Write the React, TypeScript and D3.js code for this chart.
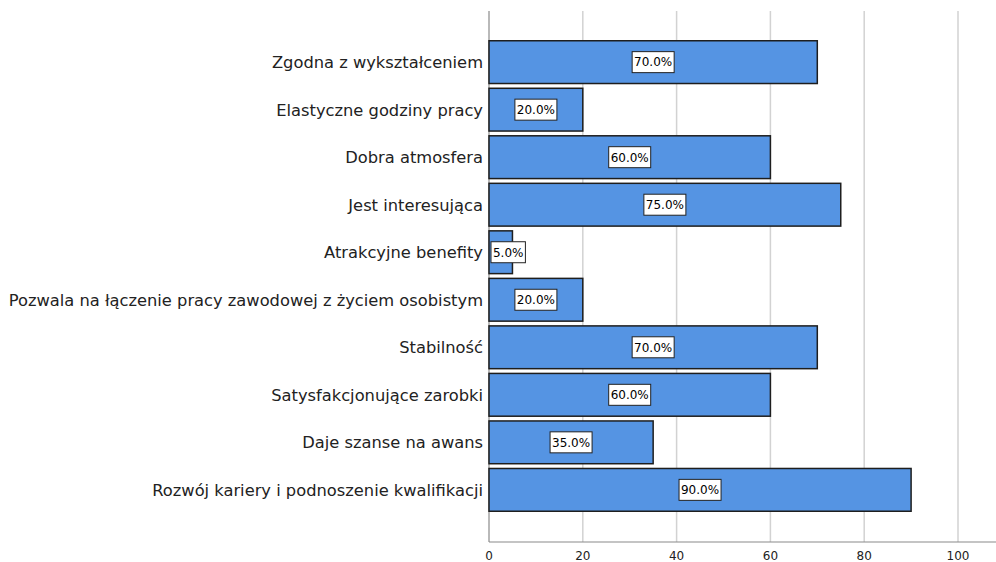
import React from "react";
import * as d3 from "d3";

const categories = [
  "Zgodna z wykształceniem",
  "Elastyczne godziny pracy",
  "Dobra atmosfera",
  "Jest interesująca",
  "Atrakcyjne benefity",
  "Pozwala na łączenie pracy zawodowej z życiem osobistym",
  "Stabilność",
  "Satysfakcjonujące zarobki",
  "Daje szanse na awans",
  "Rozwój kariery i podnoszenie kwalifikacji",
];
const values = [70, 20, 60, 75, 5, 20, 70, 60, 35, 90];
const ticks = [0, 20, 40, 60, 80, 100];

export default function App() {
  const W = 996, H = 562;
  const x = d3.scaleLinear().domain([0, 100]).range([489, 958]);
  const y = d3.scaleBand<string>().domain(categories).range([36, 516]).padding(0.1);
  const top = 11, axisY = 542;
  const font = "'DejaVu Sans', sans-serif";
  const mw = (s: string) => {
    // approximate DejaVu Sans 12px width
    let w = 0;
    for (const ch of s) w += ch === "." ? 3.8 : ch === "%" ? 11.4 : 7.6;
    return w;
  };
  return (
    <svg width={W} height={H} style={{ position: "absolute", left: 0, top: 0 }} fontFamily={font}>
      <rect width={W} height={H} fill="#fff" />
      {ticks.filter(t => t > 0).map(t => (
        <line key={t} x1={x(t)} x2={x(t)} y1={top} y2={axisY} stroke="#d2d2d2" strokeWidth={1.5} />
      ))}
      <line x1={x(0)} x2={x(0)} y1={top} y2={axisY} stroke="#8a8a8a" strokeWidth={1.2} />
      <line x1={x(0)} x2={W} y1={axisY} y2={axisY} stroke="#8a8a8a" strokeWidth={1.2} />
      {ticks.map(t => (
        <text key={t} x={x(t)} y={axisY + 18} textAnchor="middle" fontSize={12} fill="#222">{t}</text>
      ))}
      {categories.map((c, i) => {
        const by = y(c)!;
        const bh = y.bandwidth();
        const cy = by + bh / 2;
        const bw = x(values[i]) - x(0);
        const label = values[i].toFixed(1) + "%";
        const lw = mw(label) + 4;
        const lh = 21;
        let cx = x(0) + bw / 2;
        cx = Math.max(cx, x(0) + lw / 2 + 2);
        return (
          <g key={c}>
            <rect x={x(0)} y={by} width={bw} height={bh} fill="#5594e3" stroke="#1e1e1e" strokeWidth={1.5} />
            <text x={483} y={cy} dy="0.36em" textAnchor="end" fontSize={16.3} fill="#222">{c}</text>
            <rect x={cx - lw / 2} y={cy - lh / 2} width={lw} height={lh} fill="#fff" stroke="#222" strokeWidth={1} />
            <text x={cx} y={cy} dy="0.36em" textAnchor="middle" fontSize={12} fill="#000">{label}</text>
          </g>
        );
      })}
    </svg>
  );
}
